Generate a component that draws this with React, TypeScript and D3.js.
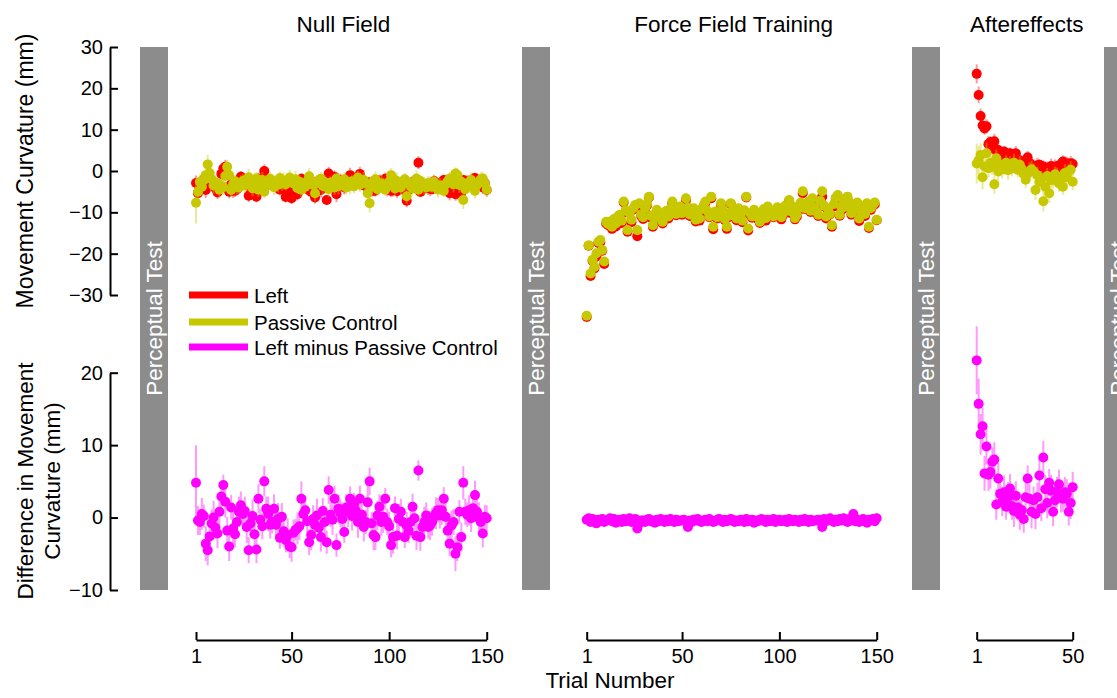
import React, { useEffect, useRef } from 'react'
import * as d3 from 'd3'

// labels and ticks
const phaseTitles = ['Null Field', 'Force Field Training', 'Aftereffects']
const seriesNames = ['Left', 'Passive Control', 'Left minus Passive Control']
const seriesColors = ['#ff0000', '#c8c800', '#ff00ff']
const topTicks = [-30, -20, -10, 0, 10, 20, 30]
const bottomTicks = [-10, 0, 10, 20]
const longTicks = [1, 50, 100, 150]
const shortTicks = [1, 50]

// Null field (150 trials)
const nullLeft = [
	-2.9, -5.4, -3.2, -3.3, -2.0, -4.6, -2.9, -3.1, -2.8, -3.5,
	-4.2, -5.2, -3.7, -0.7, 0.6, 1.0, -0.8, -5.0, -3.2, -4.7,
	-4.8, -4.4, -3.2, -1.4, -1.9, -2.6, -3.3, -6.0, -3.8, -4.0,
	-4.9, -6.2, -1.9, -3.7, -3.4, 0.0, -2.4, -2.2, -2.9, -3.4,
	-2.7, -3.5, -3.5, -4.5, -2.9, -4.3, -6.3, -4.5, -5.6, -6.6,
	-5.1, -3.7, -5.6, -3.8, -1.9, -2.7, -2.8, -3.0, -4.7, -5.0,
	-3.6, -6.4, -2.6, -3.6, -4.6, -2.7, -3.3, -7.0, -0.6, -2.4,
	-3.5, -1.4, -5.6, -2.4, -2.2, -3.3, -4.0, -2.6, -2.5, -1.0,
	-2.3, -1.9, -2.0, -2.2, -0.7, -2.2, -3.5, -3.6, -3.3, -2.8,
	-4.6, -4.8, -4.7, -4.1, -2.3, -3.6, -3.3, -1.9, -4.2, -3.8,
	-4.8, -4.5, -2.9, -4.9, -3.6, -3.2, -3.6, -4.7, -7.2, -4.6,
	-4.2, -2.7, -3.3, -4.3, 2.0, -5.1, -4.3, -4.2, -3.7, -4.2,
	-4.3, -4.4, -2.5, -2.8, -3.5, -3.2, -2.8, -2.2, -3.1, -4.3,
	-5.4, -3.7, -3.8, -5.6, -5.1, -2.6, -5.3, -2.2, -3.6, -2.6,
	-2.5, -2.3, -2.3, -1.7, -2.6, -2.9, -2.6, -4.0, -2.9, -4.6,
]
const nullPassive = [
	-7.7, -5.0, -2.6, -3.8, -2.2, -1.0, 1.6, -0.5, -2.0, -3.5,
	-2.8, -3.0, -4.5, -3.6, -3.9, -1.2, 1.0, -1.0, -4.6, -3.2,
	-2.5, -3.8, -4.0, -3.1, -2.4, -3.5, -2.0, -1.5, -3.0, -4.2,
	-2.6, -1.8, -4.5, -3.4, -2.2, -5.0, -3.6, -2.7, -1.9, -2.8,
	-3.9, -2.5, -3.3, -1.7, -3.0, -2.4, -3.2, -2.1, -1.6, -2.5,
	-3.0, -2.0, -4.1, -2.6, -4.5, -3.2, -3.8, -2.5, -1.3, -2.6,
	-3.4, -5.4, -2.9, -2.2, -1.9, -3.6, -2.7, -3.6, -4.4, -2.8,
	-3.2, -4.0, -1.8, -3.6, -2.8, -3.1, -2.0, -4.0, -3.3, -3.6,
	-2.5, -3.7, -2.9, -1.6, -3.3, -2.6, -2.2, -3.0, -5.4, -7.8,
	-3.8, -2.4, -2.0, -4.4, -3.8, -3.0, -3.4, -4.5, -3.6, -2.6,
	-1.0, -1.8, -4.2, -2.4, -3.4, -4.0, -3.0, -2.0, -6.1, -2.8,
	-3.6, -4.2, -3.2, -1.8, -4.5, -2.4, -3.0, -3.6, -4.0, -2.9,
	-3.2, -3.8, -2.6, -3.4, -4.5, -3.5, -3.8, -4.8, -3.2, -2.5,
	-1.8, -2.6, -3.2, -0.6, -1.0, -3.4, -2.6, -7.0, -4.4, -3.0,
	-3.5, -2.2, -3.6, -4.8, -3.4, -2.8, -2.0, -1.8, -3.0, -4.5,
]
const nullDiff = [
	4.8, -0.4, -0.6, 0.5, 0.2, -3.6, -4.5, -2.6, -0.8, 0.0,
	-1.4, -2.2, 0.8, 2.9, 4.5, 2.2, -1.8, -4.0, 1.4, -1.5,
	-2.3, -0.6, 0.8, 1.7, 0.5, 0.9, -1.3, -4.5, -0.8, 0.2,
	-2.3, -4.4, 2.6, -0.3, -1.2, 5.0, 1.2, 0.5, -1.0, -0.6,
	1.2, -1.0, -0.2, -2.8, 0.1, -1.9, -3.1, -2.4, -4.0, -4.1,
	-2.1, -1.7, -1.5, -1.2, 2.6, 0.5, 1.0, -0.5, -3.4, -2.4,
	-0.2, -1.0, 0.3, -1.4, -2.7, 0.9, -0.6, -3.4, 3.8, 0.4,
	-0.3, 2.6, -3.8, 1.2, 0.6, -0.2, -2.0, 1.4, 0.8, 2.6,
	0.2, 1.8, 0.9, -0.6, 2.6, 0.4, -1.3, -0.6, 2.1, 5.0,
	-0.8, -2.4, -2.7, 0.3, 1.5, -0.6, 0.1, 2.6, -0.6, -1.2,
	-3.8, -2.7, 1.3, -2.5, -0.2, 0.8, -0.6, -2.7, -1.1, -1.8,
	-0.6, 1.5, -0.1, -2.5, 6.5, -2.7, -1.3, -0.6, 0.3, -1.3,
	-1.1, -0.6, 0.1, 0.6, 1.0, 0.3, 1.0, 2.6, 0.1, -1.8,
	-3.6, -1.1, -0.6, -5.0, -4.1, 0.8, -2.7, 4.8, 0.8, 0.4,
	1.0, -0.1, 1.3, 3.1, 0.8, -0.1, -0.6, -2.2, 0.1, -0.1,
]
const nullLeftErr = [
	1.8, 1.5, 1.3, 1.7, 1.4, 1.9, 1.6, 1.2, 1.5, 1.8,
	1.4, 1.6, 1.3, 1.9, 1.5, 1.7, 1.2, 1.6, 1.4, 1.8,
	1.5, 1.3, 1.7, 1.4, 1.6, 1.2, 1.8, 1.5, 1.3, 1.6,
	1.7, 1.4, 1.5, 1.9, 1.3, 1.6, 1.4, 1.2, 1.7, 1.5,
	1.3, 1.8, 1.5, 1.4, 1.6, 1.7, 1.3, 1.5, 1.9, 1.4,
	1.6, 1.2, 1.5, 1.7, 1.4, 1.3, 1.8, 1.6, 1.5, 1.4,
	1.7, 1.5, 1.3, 1.6, 1.8, 1.4, 1.5, 1.2, 1.6, 1.7,
	1.4, 1.5, 1.9, 1.3, 1.6, 1.4, 1.7, 1.5, 1.3, 1.8,
	1.5, 1.6, 1.4, 1.2, 1.7, 1.5, 1.3, 1.6, 1.8, 1.4,
	1.6, 1.3, 1.5, 1.7, 1.4, 1.6, 1.2, 1.5, 1.9, 1.3,
	1.5, 1.7, 1.4, 1.6, 1.3, 1.8, 1.5, 1.4, 1.6, 1.7,
	1.3, 1.5, 1.8, 1.4, 1.6, 1.2, 1.5, 1.7, 1.4, 1.6,
	1.8, 1.3, 1.5, 1.6, 1.4, 1.7, 1.5, 1.3, 1.6, 1.4,
	1.7, 1.5, 1.2, 1.6, 1.8, 1.4, 1.5, 1.3, 1.7, 1.6,
	1.4, 1.5, 1.8, 1.3, 1.6, 1.4, 1.7, 1.5, 1.3, 1.6,
]
const nullPassiveErr = [
	5.0, 2.2, 1.8, 2.0, 1.6, 1.9, 2.3, 1.7, 1.5, 2.1,
	1.8, 1.6, 2.0, 1.4, 1.9, 2.2, 1.7, 1.5, 1.8, 2.0,
	1.6, 1.9, 1.5, 2.1, 1.7, 1.8, 1.4, 2.0, 1.6, 1.9,
	2.2, 1.5, 1.8, 1.7, 2.0, 1.6, 1.9, 1.4, 1.8, 1.7,
	2.0, 1.5, 1.9, 1.6, 1.8, 2.1, 1.5, 1.7, 1.9, 1.6,
	1.8, 2.0, 1.4, 1.7, 1.9, 1.6, 1.8, 1.5, 2.0, 1.7,
	1.6, 1.9, 1.8, 1.5, 1.7, 2.0, 1.6, 1.8, 1.9, 1.5,
	1.7, 1.8, 1.6, 2.1, 1.5, 1.9, 1.7, 1.6, 1.8, 2.0,
	1.5, 1.7, 1.9, 1.6, 1.8, 1.5, 2.0, 1.7, 1.6, 2.2,
	1.8, 1.6, 1.9, 1.5, 1.7, 2.0, 1.8, 1.6, 1.5, 1.9,
	1.7, 1.6, 1.8, 2.0, 1.5, 1.9, 1.7, 1.6, 1.8, 1.5,
	2.0, 1.7, 1.6, 1.9, 1.8, 1.5, 1.7, 2.1, 1.6, 1.8,
	1.9, 1.5, 1.7, 1.6, 2.0, 1.8, 1.6, 1.5, 1.9, 1.7,
	1.6, 1.8, 2.0, 1.5, 1.7, 1.9, 1.6, 2.2, 1.8, 1.5,
	1.7, 1.9, 1.6, 1.8, 2.0, 1.5, 1.7, 1.6, 1.9, 1.8,
]
const nullDiffErr = [
	5.2, 2.0, 1.8, 2.2, 1.6, 2.4, 2.1, 1.7, 1.9, 2.3,
	1.5, 2.0, 1.8, 1.6, 1.4, 2.2, 1.9, 2.0, 1.7, 2.5,
	1.8, 1.6, 2.1, 1.9, 1.5, 2.0, 2.2, 1.8, 1.7, 2.3,
	1.6, 1.9, 2.0, 1.5, 1.8, 2.1, 1.7, 2.4, 1.9, 1.6,
	2.0, 1.8, 2.2, 1.5, 1.9, 2.1, 1.7, 2.3, 1.6, 2.0,
	1.8, 1.5, 2.2, 1.9, 2.4, 1.7, 2.0, 1.6, 1.8, 2.1,
	1.9, 1.5, 2.3, 1.7, 2.0, 1.8, 2.2, 1.6, 1.9, 1.7,
	2.1, 1.8, 1.6, 2.0, 1.9, 2.3, 1.5, 1.8, 2.1, 1.7,
	2.0, 1.6, 1.9, 2.2, 1.8, 1.5, 2.0, 1.7, 2.4, 1.9,
	1.6, 2.1, 1.8, 2.0, 1.7, 1.9, 2.2, 1.5, 1.8, 2.0,
	1.7, 2.3, 1.6, 1.9, 2.1, 1.8, 2.0, 1.5, 1.9, 1.7,
	2.2, 1.8, 1.6, 2.0, 1.4, 1.9, 1.7, 2.1, 1.8, 1.6,
	2.0, 1.9, 1.5, 2.2, 1.7, 1.8, 2.0, 1.6, 2.3, 1.9,
	1.7, 2.1, 1.8, 2.4, 1.9, 1.6, 2.0, 2.3, 1.8, 1.7,
	2.1, 1.9, 1.6, 2.0, 1.8, 2.2, 1.7, 1.9, 1.6, 1.8,
]

// Force field training (150 trials)
const ffLeft = [
	-35.3, -18.1, -25.4, -21.7, -23.6, -20.7, -17.4, -17.2, -19.3, -22.5,
	-12.7, -13.1, -12.4, -14.0, -11.8, -13.4, -11.4, -10.9, -12.6, -7.6,
	-10.0, -14.7, -10.3, -12.4, -9.3, -8.4, -15.8, -8.6, -10.9, -11.6,
	-9.6, -8.3, -6.4, -11.3, -13.5, -12.2, -9.7, -10.5, -11.4, -12.7,
	-11.1, -9.9, -11.5, -9.4, -7.8, -10.4, -10.7, -9.5, -9.0, -10.6,
	-9.7, -7.1, -10.1, -10.9, -10.8, -9.3, -12.2, -10.2, -12.0, -9.8,
	-8.8, -7.7, -10.1, -11.2, -6.6, -14.1, -10.3, -11.5, -10.2, -8.2,
	-10.0, -11.9, -14.0, -11.2, -8.0, -9.9, -11.1, -11.9, -9.5, -11.1,
	-12.4, -10.1, -6.4, -14.4, -10.6, -11.3, -10.1, -11.0, -11.7, -12.6,
	-10.2, -9.6, -12.0, -8.9, -10.9, -10.2, -11.2, -10.8, -9.2, -9.9,
	-11.7, -10.6, -8.7, -9.6, -7.2, -10.2, -9.1, -11.7, -11.0, -9.4,
	-7.9, -5.4, -9.2, -8.6, -8.0, -9.9, -7.1, -9.2, -10.2, -10.9,
	-7.6, -6.2, -8.6, -11.5, -9.5, -10.5, -13.5, -8.6, -6.7, -6.3,
	-10.8, -9.4, -7.5, -8.9, -6.8, -8.0, -10.6, -8.9, -8.5, -7.9,
	-12.1, -10.2, -8.8, -10.9, -8.5, -13.8, -9.4, -8.4, -8.1, -11.9,
]
const ffPassive = [
	-35.0, -18.0, -24.8, -21.5, -23.2, -19.9, -17.1, -16.7, -19.1, -21.9,
	-12.3, -12.8, -12.3, -13.5, -11.6, -12.7, -11.0, -10.6, -12.0, -7.4,
	-9.5, -14.3, -10.2, -11.8, -9.0, -8.2, -14.3, -7.8, -10.5, -11.2,
	-9.0, -8.0, -6.2, -10.8, -13.1, -11.5, -9.4, -10.0, -11.2, -12.3,
	-10.5, -9.6, -11.0, -9.2, -7.4, -9.8, -10.4, -9.0, -8.6, -10.2,
	-9.4, -6.6, -8.8, -10.5, -10.2, -9.0, -11.8, -10.0, -11.5, -9.2,
	-8.4, -7.4, -9.6, -11.0, -6.2, -13.5, -9.8, -11.2, -10.0, -7.8,
	-9.4, -11.6, -13.5, -10.8, -7.8, -9.6, -10.5, -11.5, -9.0, -10.8,
	-12.0, -9.5, -6.2, -13.9, -10.2, -11.0, -9.4, -10.6, -11.2, -12.3,
	-10.0, -9.2, -11.4, -8.6, -10.4, -9.8, -11.0, -10.2, -8.8, -9.6,
	-11.2, -10.2, -8.4, -9.0, -7.0, -9.8, -8.6, -11.4, -10.6, -8.8,
	-7.6, -4.9, -9.0, -8.2, -7.4, -9.6, -6.6, -8.8, -9.8, -10.6,
	-7.2, -4.9, -8.4, -11.0, -9.2, -10.4, -13.1, -8.0, -6.4, -5.8,
	-10.6, -9.0, -7.4, -8.6, -6.2, -7.8, -10.2, -9.4, -8.0, -7.6,
	-11.5, -9.8, -8.6, -10.4, -7.8, -13.5, -9.0, -8.2, -7.6, -11.8,
]
const ffDiff = [
	-0.3, -0.1, -0.6, -0.2, -0.4, -0.8, -0.3, -0.5, -0.2, -0.6,
	-0.4, -0.3, -0.1, -0.5, -0.2, -0.7, -0.4, -0.3, -0.6, -0.2,
	-0.5, -0.4, -0.1, -0.6, -0.3, -0.2, -1.5, -0.8, -0.4, -0.4,
	-0.6, -0.3, -0.2, -0.5, -0.4, -0.7, -0.3, -0.5, -0.2, -0.4,
	-0.6, -0.3, -0.5, -0.2, -0.4, -0.6, -0.3, -0.5, -0.4, -0.4,
	-0.3, -0.5, -1.3, -0.4, -0.6, -0.3, -0.4, -0.2, -0.5, -0.6,
	-0.4, -0.3, -0.5, -0.2, -0.4, -0.6, -0.5, -0.3, -0.2, -0.4,
	-0.6, -0.3, -0.5, -0.4, -0.2, -0.3, -0.6, -0.4, -0.5, -0.3,
	-0.4, -0.6, -0.2, -0.5, -0.4, -0.3, -0.7, -0.4, -0.5, -0.3,
	-0.2, -0.4, -0.6, -0.3, -0.5, -0.4, -0.2, -0.6, -0.4, -0.3,
	-0.5, -0.4, -0.3, -0.6, -0.2, -0.4, -0.5, -0.3, -0.4, -0.6,
	-0.3, -0.5, -0.2, -0.4, -0.6, -0.3, -0.5, -0.4, -0.4, -0.3,
	-0.4, -1.3, -0.2, -0.5, -0.3, -0.1, -0.4, -0.6, -0.3, -0.5,
	-0.2, -0.4, -0.1, -0.3, -0.6, -0.2, -0.4, 0.5, -0.5, -0.3,
	-0.6, -0.4, -0.2, -0.5, -0.7, -0.3, -0.4, -0.2, -0.5, -0.1,
]

// Aftereffects (50 trials)
const aeLeft = [
	23.5, 18.4, 13.3, 11.0, 10.3, 10.8, 6.5, 7.0, 5.5, 7.2,
	5.0, 5.1, 4.6, 3.2, 4.7, 3.4, 3.6, 4.3, 2.8, 3.4,
	4.3, 2.4, 2.6, 1.7, 0.9, 1.5, 3.3, 1.9, 1.4, 1.3,
	0.2, 1.4, 1.5, 0.5, 1.1, 0.6, 0.7, -0.4, 1.2, -1.1,
	1.1, 0.6, 1.4, 0.8, 2.3, 1.6, 1.9, 0.6, 1.9, 1.7,
]
const aePassive = [
	1.8, 2.6, 3.9, -1.5, 1.1, 4.3, 0.7, 2.0, 1.0, -3.2,
	3.1, -0.1, 1.6, 0.4, 1.1, 2.0, 0.2, 1.5, 0.6, 2.0,
	1.1, 0.3, 1.5, 0.5, -0.8, -2.1, -0.6, -0.1, 0.4, -0.1,
	-4.6, -1.0, -2.6, -1.8, -7.3, -3.8, -1.2, -5.4, -2.2, -2.1,
	-0.8, -1.3, -3.0, -2.0, -3.8, -0.5, -1.5, -0.1, 0.3, -2.6,
]
const aeDiff = [
	21.7, 15.7, 11.5, 12.6, 6.1, 9.8, 5.9, 6.3, 7.7, 8.0,
	1.8, 5.4, 3.3, 2.2, 3.5, 1.5, 2.8, 4.0, 1.6, 0.9,
	3.0, 1.4, 0.4, 1.0, -0.2, 2.8, 5.4, 2.6, 0.8, 2.4,
	0.5, 2.8, 5.8, 1.3, 8.3, 3.9, 2.0, 4.8, 3.7, 0.8,
	2.4, 3.5, 4.6, 2.9, 2.6, 3.5, 3.3, 0.8, 2.0, 4.2,
]
const aeLeftErr = [
	2.3, 2.0, 1.8, 1.6, 1.5, 1.7, 1.9, 1.4, 1.6, 1.8,
	1.5, 1.7, 1.4, 1.6, 1.3, 1.5, 1.8, 1.4, 1.6, 1.5,
	1.7, 1.4, 1.6, 1.3, 1.5, 1.8, 1.6, 1.4, 1.7, 1.5,
	1.6, 1.8, 1.4, 1.9, 1.5, 1.7, 1.6, 1.4, 1.8, 1.5,
	1.7, 1.6, 1.4, 1.8, 1.5, 1.9, 1.6, 1.4, 1.7, 1.5,
]
const aePassiveErr = [
	4.8, 3.5, 2.8, 3.0, 2.4, 2.6, 2.2, 2.5, 2.0, 2.3,
	2.1, 2.4, 1.9, 2.2, 2.0, 1.8, 2.3, 2.1, 1.9, 2.2,
	2.0, 1.8, 2.1, 1.9, 2.3, 2.0, 1.8, 2.2, 2.1, 1.9,
	2.4, 2.0, 2.2, 1.8, 2.5, 2.1, 1.9, 2.3, 2.0, 2.2,
	1.8, 2.1, 2.0, 2.3, 1.9, 2.2, 2.0, 1.8, 2.1, 2.0,
]
const aeDiffErr = [
	4.7, 3.5, 2.8, 2.6, 2.4, 2.5, 2.2, 2.3, 2.0, 2.4,
	2.1, 2.2, 1.9, 2.0, 2.3, 1.8, 2.1, 2.0, 1.9, 2.2,
	2.0, 1.8, 2.1, 2.0, 1.9, 2.2, 1.8, 2.0, 2.3, 1.9,
	2.1, 2.0, 2.2, 1.8, 2.3, 2.0, 2.1, 1.9, 2.2, 2.0,
	1.9, 2.1, 2.0, 2.2, 1.8, 2.1, 2.0, 1.9, 2.2, 2.1,
]

const FONT = "'Liberation Sans', Arial, Helvetica, sans-serif"

const App = () => {
	const ref = useRef<SVGSVGElement>(null)

	useEffect(() => {
		const svg = d3.select(ref.current)
		svg.selectAll('*').remove()
		svg.attr('font-family', FONT)

		const topY = d3.scaleLinear().domain([-30, 30]).range([295, 47])
		const botY = d3.scaleLinear().domain([-10, 20]).range([590, 372.7])

		const phases = [
			{
				title: phaseTitles[0], n: 150, range: [196, 486.7], ticks: longTicks,
				left: nullLeft, passive: nullPassive, diff: nullDiff,
				leftErr: nullLeftErr, passiveErr: nullPassiveErr, diffErr: nullDiffErr,
			},
			{
				title: phaseTitles[1], n: 150, range: [586.7, 876.7], ticks: longTicks,
				left: ffLeft, passive: ffPassive, diff: ffDiff,
				leftErr: null, passiveErr: null, diffErr: null,
			},
			{
				title: phaseTitles[2], n: 50, range: [976.7, 1072.7], ticks: shortTicks,
				left: aeLeft, passive: aePassive, diff: aeDiff,
				leftErr: aeLeftErr, passiveErr: aePassiveErr, diffErr: aeDiffErr,
			},
		]
		const barXs = [140, 522, 912, 1104]

		// perceptual test blocks
		barXs.forEach((bx) => {
			svg.append('rect')
				.attr('x', bx).attr('y', 47)
				.attr('width', 28).attr('height', 543)
				.attr('fill', '#8c8c8c')
			svg.append('text')
				.attr('transform', `translate(${bx + 14},318.5) rotate(-90)`)
				.attr('text-anchor', 'middle')
				.attr('dominant-baseline', 'central')
				.attr('fill', '#fff')
				.attr('font-size', 22.5)
				.text('Perceptual Test')
		})

		const drawSeries = (g, x, y, vals, errs, color) => {
			if (errs) {
				g.selectAll(null).data(vals).enter().append('line')
					.attr('x1', (d, i) => x(i + 1)).attr('x2', (d, i) => x(i + 1))
					.attr('y1', (d, i) => y(d - errs[i])).attr('y2', (d, i) => y(d + errs[i]))
					.attr('stroke', color).attr('stroke-opacity', 0.4).attr('stroke-width', 2)
			}
			g.selectAll(null).data(vals).enter().append('circle')
				.attr('cx', (d, i) => x(i + 1)).attr('cy', (d) => y(d))
				.attr('r', 5).attr('fill', color)
		}

		phases.forEach((p) => {
			const x = d3.scaleLinear().domain([1, p.n]).range(p.range)
			const g = svg.append('g')
			drawSeries(g, x, topY, p.left, p.leftErr, seriesColors[0])
			drawSeries(g, x, topY, p.passive, p.passiveErr, seriesColors[1])
			drawSeries(g, x, botY, p.diff, p.diffErr, seriesColors[2])

			svg.append('text')
				.attr('x', (p.range[0] + p.range[1]) / 2 + 2).attr('y', 32)
				.attr('text-anchor', 'middle').attr('font-size', 22.5)
				.text(p.title)

			const ax = svg.append('g')
				.attr('transform', 'translate(0,640)')
				.call(d3.axisBottom(x).tickValues(p.ticks).tickSize(-8).tickSizeOuter(0).tickPadding(9).tickFormat(d3.format('d')))
			ax.selectAll('path, line').attr('stroke', '#000').attr('stroke-width', 2)
			ax.selectAll('text').attr('font-size', 20).attr('font-family', FONT).attr('fill', '#000')
		})

		const yAxes = [
			{ scale: topY, ticks: topTicks },
			{ scale: botY, ticks: bottomTicks },
		]
		yAxes.forEach((a) => {
			const ay = svg.append('g')
				.attr('transform', 'translate(110,0)')
				.call(d3.axisLeft(a.scale).tickValues(a.ticks).tickSize(-8).tickSizeOuter(0).tickPadding(7))
			ay.selectAll('path, line').attr('stroke', '#000').attr('stroke-width', 2)
			ay.selectAll('text').attr('font-size', 20).attr('font-family', FONT).attr('fill', '#000')
		})

		// axis titles
		svg.append('text')
			.attr('transform', 'translate(25,171) rotate(-90)')
			.attr('text-anchor', 'middle').attr('dominant-baseline', 'central')
			.attr('font-size', 23)
			.text('Movement Curvature (mm)')
		const diffLabel = ['Difference in Movement', 'Curvature (mm)']
		diffLabel.forEach((t, i) => {
			svg.append('text')
				.attr('transform', `translate(${25 + i * 27},481) rotate(-90)`)
				.attr('text-anchor', 'middle').attr('dominant-baseline', 'central')
				.attr('font-size', 22.5)
				.text(t)
		})
		svg.append('text')
			.attr('x', 610).attr('y', 688)
			.attr('text-anchor', 'middle').attr('font-size', 22.5)
			.text('Trial Number')

		// legend
		const legendY = [295, 322, 347]
		seriesNames.forEach((name, i) => {
			svg.append('line')
				.attr('x1', 189).attr('x2', 248)
				.attr('y1', legendY[i]).attr('y2', legendY[i])
				.attr('stroke', seriesColors[i]).attr('stroke-width', 7)
			svg.append('text')
				.attr('x', 254).attr('y', legendY[i])
				.attr('dominant-baseline', 'central')
				.attr('font-size', 20.5)
				.text(name)
		})
	}, [])

	return (
		<svg
			ref={ref}
			width={1117}
			height={698}
			style={{ position: 'absolute', left: 0, top: 0, background: '#fff' }}
		/>
	)
}

export default App
